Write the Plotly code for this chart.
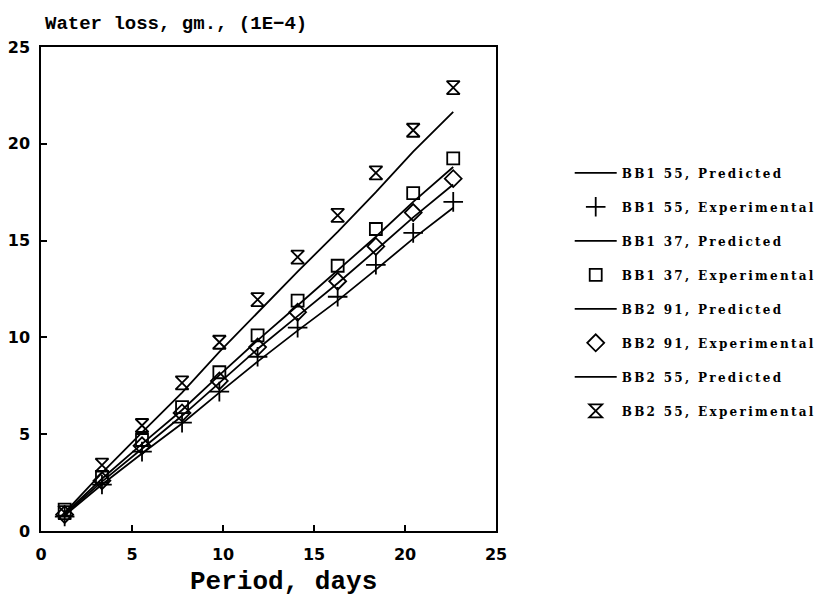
import plotly.graph_objects as go

# Data
period_days = [1.3, 3.35, 5.55, 7.75, 9.8, 11.9, 14.1, 16.3, 18.4, 20.45, 22.65]

bb1_55_pred = [0.8, 2.4, 4.0, 5.55, 7.15, 8.75, 10.35, 11.9, 13.5, 15.1, 16.7]
bb1_55_exp = [0.75, 2.4, 4.1, 5.6, 7.2, 9.0, 10.5, 12.1, 13.75, 15.4, 17.0]
bb1_37_pred = [0.9, 2.7, 4.5, 6.25, 8.05, 9.85, 11.65, 13.45, 15.2, 17.0, 18.8]
bb1_37_exp = [1.1, 2.8, 4.7, 6.4, 8.2, 10.1, 11.9, 13.7, 15.6, 17.45, 19.25]
bb2_91_pred = [0.85, 2.55, 4.25, 5.95, 7.65, 9.4, 11.1, 12.8, 14.5, 16.2, 17.9]
bb2_91_exp = [0.85, 2.6, 4.4, 6.1, 7.75, 9.5, 11.3, 12.9, 14.7, 16.45, 18.2]
bb2_55_pred = [0.95, 3.0, 5.1, 7.15, 9.25, 11.3, 13.4, 15.45, 17.5, 19.6, 21.65]
bb2_55_exp = [0.95, 3.4, 5.45, 7.65, 9.75, 11.95, 14.15, 16.3, 18.5, 20.7, 22.9]

tick_vals = [0, 5, 10, 15, 20, 25]

fig = go.Figure()

def label(s):
    return '<span style="letter-spacing:2.3px">' + s + '</span>'

def pred(name, y, grp):
    fig.add_trace(go.Scatter(x=period_days, y=y, mode="lines", name=label(name),
                             legendgroup=grp,
                             line=dict(color="black", width=1.8)))

def exp(name, y, symbol, size, grp):
    fig.add_trace(go.Scatter(x=period_days, y=y, mode="markers", name=label(name),
                             legendgroup=grp,
                             marker=dict(symbol=symbol, size=size, color="black",
                                         line=dict(color="black", width=1.8))))

pred("BB1 55, Predicted", bb1_55_pred, "g1")
exp("BB1 55, Experimental", bb1_55_exp, "cross-thin-open", 14, "g2")
pred("BB1 37, Predicted", bb1_37_pred, "g3")
exp("BB1 37, Experimental", bb1_37_exp, "square-open", 12, "g4")
pred("BB2 91, Predicted", bb2_91_pred, "g5")
exp("BB2 91, Experimental", bb2_91_exp, "diamond-open", 13, "g6")
pred("BB2 55, Predicted", bb2_55_pred, "g7")
exp("BB2 55, Experimental", bb2_55_exp, "hourglass-open", 13, "g8")

axis_common = dict(range=[0, 25], tickvals=tick_vals, showline=True, mirror=True,
                   linecolor="black", linewidth=1.5, ticks="inside", ticklen=6,
                   tickwidth=1.5, tickcolor="black", showgrid=False, zeroline=False,
                   automargin=False,
                   tickfont=dict(family="DejaVu Sans", size=16, color="black", weight="bold"))

fig.update_xaxes(**axis_common, ticklabelstandoff=8)
fig.update_yaxes(**axis_common, ticklabelstandoff=6)

fig.update_layout(
    width=822, height=601,
    margin=dict(l=41, r=326, t=47, b=70, autoexpand=False),
    paper_bgcolor="white", plot_bgcolor="white",
    showlegend=True,
    legend=dict(x=1.162, xanchor="left", y=0.77, yanchor="top",
                tracegroupgap=15, itemwidth=42,
                font=dict(family="DejaVu Serif", size=12, color="black", weight="bold"),
                bgcolor="rgba(0,0,0,0)"),
    annotations=[
        dict(text="Water loss, gm., (1E\u22124)", xref="paper", yref="paper",
             x=0.005, y=1.0, xanchor="left", yanchor="bottom", yshift=10, showarrow=False,
             font=dict(family="Liberation Mono", size=19, color="black", weight="bold")),
        dict(text="Period, days", xref="paper", yref="paper",
             x=0.532, y=-0.105, xanchor="center", yanchor="middle", showarrow=False,
             font=dict(family="Liberation Mono", size=26, color="black", weight="bold")),
    ],
)

fig.write_html("out.html")
